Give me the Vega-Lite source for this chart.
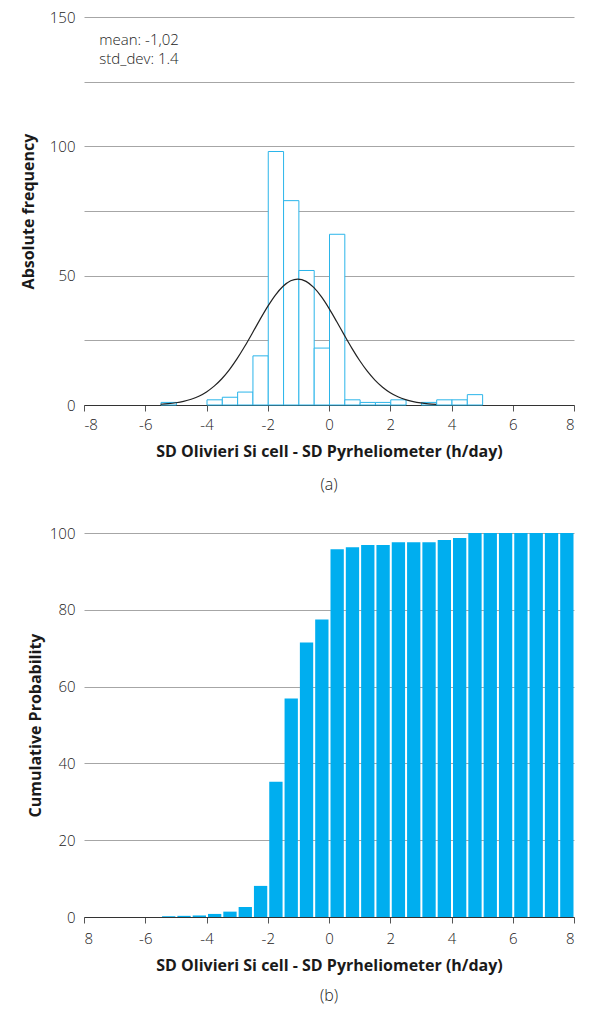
{
  "$schema": "https://vega.github.io/schema/vega-lite/v6.json",
  "background": "white",
  "padding": {"left": 20, "top": 10, "right": 10, "bottom": 5},
  "spacing": 33,
  "datasets": {
    "hist": [
      {"bin_start": -5.5, "bin_end": -5.0, "count": 1},
      {"bin_start": -4.0, "bin_end": -3.5, "count": 2},
      {"bin_start": -3.5, "bin_end": -3.0, "count": 3},
      {"bin_start": -3.0, "bin_end": -2.5, "count": 5},
      {"bin_start": -2.5, "bin_end": -2.0, "count": 19},
      {"bin_start": -2.0, "bin_end": -1.5, "count": 98},
      {"bin_start": -1.5, "bin_end": -1.0, "count": 79},
      {"bin_start": -1.0, "bin_end": -0.5, "count": 52},
      {"bin_start": -0.5, "bin_end": 0.0, "count": 22},
      {"bin_start": 0.0, "bin_end": 0.5, "count": 66},
      {"bin_start": 0.5, "bin_end": 1.0, "count": 2},
      {"bin_start": 1.0, "bin_end": 1.5, "count": 1},
      {"bin_start": 1.5, "bin_end": 2.0, "count": 1},
      {"bin_start": 2.0, "bin_end": 2.5, "count": 2},
      {"bin_start": 3.0, "bin_end": 3.5, "count": 1},
      {"bin_start": 3.5, "bin_end": 4.0, "count": 2},
      {"bin_start": 4.0, "bin_end": 4.5, "count": 2},
      {"bin_start": 4.5, "bin_end": 5.0, "count": 4}
    ],
    "curve": [
      {"x": -5.5, "y": 0.29}, {"x": -5.25, "y": 0.51}, {"x": -5.0, "y": 0.86},
      {"x": -4.75, "y": 1.40}, {"x": -4.5, "y": 2.22}, {"x": -4.25, "y": 3.40},
      {"x": -4.0, "y": 5.06}, {"x": -3.75, "y": 7.28}, {"x": -3.5, "y": 10.15},
      {"x": -3.25, "y": 13.70}, {"x": -3.0, "y": 17.92}, {"x": -2.75, "y": 22.69},
      {"x": -2.5, "y": 27.85}, {"x": -2.25, "y": 33.11}, {"x": -2.0, "y": 38.12},
      {"x": -1.75, "y": 42.51}, {"x": -1.5, "y": 45.92}, {"x": -1.25, "y": 48.05},
      {"x": -1.02, "y": 48.7}, {"x": -0.75, "y": 47.80}, {"x": -0.5, "y": 45.45},
      {"x": -0.25, "y": 41.86}, {"x": 0.0, "y": 37.35}, {"x": 0.25, "y": 32.27},
      {"x": 0.5, "y": 27.01}, {"x": 0.75, "y": 21.90}, {"x": 1.0, "y": 17.20},
      {"x": 1.25, "y": 13.08}, {"x": 1.5, "y": 9.64}, {"x": 1.75, "y": 6.88},
      {"x": 2.0, "y": 4.75}, {"x": 2.25, "y": 3.18}, {"x": 2.5, "y": 2.06},
      {"x": 2.75, "y": 1.30}, {"x": 3.0, "y": 0.79}, {"x": 3.25, "y": 0.47},
      {"x": 3.5, "y": 0.27}
    ],
    "cum": [
      {"bin_start": -5.5, "bin_end": -5.0, "p": 0.2},
      {"bin_start": -5.0, "bin_end": -4.5, "p": 0.3},
      {"bin_start": -4.5, "bin_end": -4.0, "p": 0.4},
      {"bin_start": -4.0, "bin_end": -3.5, "p": 0.8},
      {"bin_start": -3.5, "bin_end": -3.0, "p": 1.4},
      {"bin_start": -3.0, "bin_end": -2.5, "p": 2.6},
      {"bin_start": -2.5, "bin_end": -2.0, "p": 8.1},
      {"bin_start": -2.0, "bin_end": -1.5, "p": 35.2},
      {"bin_start": -1.5, "bin_end": -1.0, "p": 56.9},
      {"bin_start": -1.0, "bin_end": -0.5, "p": 71.5},
      {"bin_start": -0.5, "bin_end": 0.0, "p": 77.5},
      {"bin_start": 0.0, "bin_end": 0.5, "p": 95.8},
      {"bin_start": 0.5, "bin_end": 1.0, "p": 96.3},
      {"bin_start": 1.0, "bin_end": 1.5, "p": 96.9},
      {"bin_start": 1.5, "bin_end": 2.0, "p": 96.9},
      {"bin_start": 2.0, "bin_end": 2.5, "p": 97.6},
      {"bin_start": 2.5, "bin_end": 3.0, "p": 97.6},
      {"bin_start": 3.0, "bin_end": 3.5, "p": 97.6},
      {"bin_start": 3.5, "bin_end": 4.0, "p": 98.2},
      {"bin_start": 4.0, "bin_end": 4.5, "p": 98.7},
      {"bin_start": 4.5, "bin_end": 5.0, "p": 100},
      {"bin_start": 5.0, "bin_end": 5.5, "p": 100},
      {"bin_start": 5.5, "bin_end": 6.0, "p": 100},
      {"bin_start": 6.0, "bin_end": 6.5, "p": 100},
      {"bin_start": 6.5, "bin_end": 7.0, "p": 100},
      {"bin_start": 7.0, "bin_end": 7.5, "p": 100},
      {"bin_start": 7.5, "bin_end": 8.0, "p": 100}
    ]
  },
  "config": {
    "view": {"stroke": null},
    "font": "Open Sans",
    "axis": {
      "labelFont": "Open Sans",
      "labelFontSize": 15,
      "labelFontWeight": 300,
      "labelColor": "#222222",
      "titleFont": "Open Sans",
      "titleFontSize": 16,
      "titleFontWeight": "bold",
      "titleColor": "#1a1a1a",
      "gridColor": "#a6a6a6",
      "gridWidth": 1,
      "gridOpacity": 1
    },
    "title": {"font": "Open Sans", "fontSize": 16, "fontWeight": 300, "color": "#222222"}
  },
  "vconcat": [
    {
      "width": 490,
      "height": 388,
      "title": {"text": "(a)", "orient": "bottom", "anchor": "middle", "offset": 18},
      "layer": [
        {
          "data": {"name": "hist"},
          "mark": {"type": "bar", "fill": "white", "stroke": "#2bb5ea", "strokeWidth": 1, "binSpacing": 0},
          "encoding": {
            "x": {
              "field": "bin_start", "type": "quantitative", "bin": "binned",
              "scale": {"domain": [-8, 8], "nice": false},
              "axis": {
                "values": [-8, -6, -4, -2, 0, 2, 4, 6, 8],
                "labelExpr": "'' + datum.value",
                "title": "SD Olivieri Si cell - SD Pyrheliometer (h/day)",
                "grid": false, "domainColor": "#333333", "domainWidth": 1.2,
                "tickColor": "#555555", "tickSize": 6, "labelPadding": 6, "titlePadding": 11
              }
            },
            "x2": {"field": "bin_end"},
            "y": {
              "field": "count", "type": "quantitative",
              "scale": {"domain": [0, 150], "nice": false},
              "axis": {
                "values": [0, 25, 50, 75, 100, 125, 150],
                "labelExpr": "datum.value % 50 == 0 ? datum.label : ''",
                "title": "Absolute frequency",
                "domain": false, "ticks": false, "grid": true,
                "labelPadding": 9, "titlePadding": 13
              }
            }
          }
        },
        {
          "data": {"name": "curve"},
          "mark": {"type": "line", "color": "#222222", "strokeWidth": 1.2, "interpolate": "monotone"},
          "encoding": {
            "x": {"field": "x", "type": "quantitative"},
            "y": {"field": "y", "type": "quantitative"}
          }
        },
        {
          "data": {"values": [{"note": "mean: -1,02\nstd_dev: 1.4"}]},
          "mark": {"type": "text", "align": "left", "baseline": "middle", "lineBreak": "\n", "fontSize": 15, "font": "Open Sans", "fontWeight": 300, "color": "#222222", "lineHeight": 19},
          "encoding": {
            "x": {"datum": -7.5},
            "y": {"datum": 141},
            "text": {"field": "note"}
          }
        }
      ]
    },
    {
      "width": 490,
      "height": 384,
      "title": {"text": "(b)", "orient": "bottom", "anchor": "middle", "offset": 15},
      "data": {"name": "cum"},
      "mark": {"type": "bar", "color": "#00aeef", "binSpacing": 2},
      "encoding": {
        "x": {
          "field": "bin_start", "type": "quantitative", "bin": "binned",
          "scale": {"domain": [-8, 8], "nice": false},
          "axis": {
            "values": [-8, -6, -4, -2, 0, 2, 4, 6, 8],
            "labelExpr": "datum.value == -8 ? '8' : '' + datum.value",
            "title": "SD Olivieri Si cell - SD Pyrheliometer (h/day)",
            "grid": false, "domainColor": "#333333", "domainWidth": 1.2,
            "tickColor": "#555555", "tickSize": 6, "labelPadding": 8, "titlePadding": 11
          }
        },
        "x2": {"field": "bin_end"},
        "y": {
          "field": "p", "type": "quantitative",
          "scale": {"domain": [0, 100], "nice": false},
          "axis": {
            "values": [0, 20, 40, 60, 80, 100],
            "title": "Cumulative Probability",
            "domain": false, "ticks": false, "grid": true,
            "labelPadding": 9, "titlePadding": 6
          }
        }
      }
    }
  ]
}
